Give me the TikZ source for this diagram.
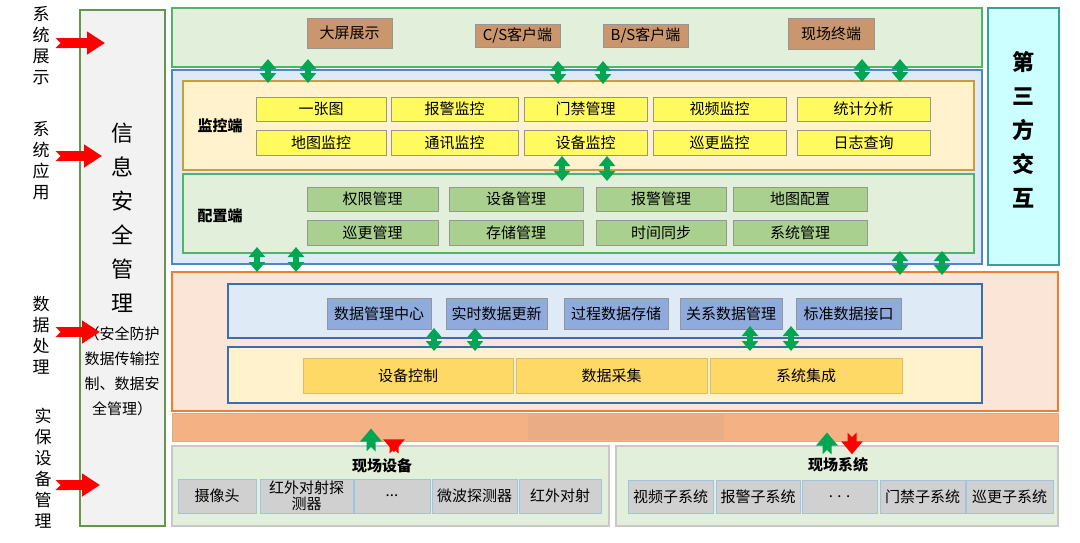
\documentclass[tikz,border=0pt]{standalone}
\usepackage{fontspec}
\setmainfont{Noto Sans CJK SC}
\usepackage{xcolor}
\usepackage{tikz}
\usetikzlibrary{positioning, arrows.meta}

\definecolor{dispfill}{RGB}{226,239,218}
\definecolor{displine}{RGB}{76,184,102}
\definecolor{secfill}{RGB}{242,242,242}
\definecolor{secline}{RGB}{98,152,72}
\definecolor{appfill}{RGB}{222,235,247}
\definecolor{appline}{RGB}{79,135,198}
\definecolor{monfill}{RGB}{255,242,204}
\definecolor{monline}{RGB}{201,158,52}
\definecolor{yellowitem}{RGB}{255,251,95}
\definecolor{greenitem}{RGB}{169,208,142}
\definecolor{brownitem}{RGB}{201,150,110}
\definecolor{thirdfill}{RGB}{204,255,255}
\definecolor{thirdline}{RGB}{58,158,158}
\definecolor{datafill}{RGB}{251,229,214}
\definecolor{dataline}{RGB}{237,125,49}
\definecolor{dmgline}{RGB}{62,110,170}
\definecolor{blueitem}{RGB}{143,170,220}
\definecolor{golditem}{RGB}{255,217,102}
\definecolor{busfill}{RGB}{244,177,131}
\definecolor{busmid}{RGB}{233,172,133}
\definecolor{fieldline}{RGB}{200,200,200}
\definecolor{grayitem}{RGB}{208,208,208}
\definecolor{grayline}{RGB}{157,195,230}
\definecolor{itemline}{RGB}{150,150,150}
\definecolor{arrowgreen}{RGB}{0,166,81}
\definecolor{arrowred}{RGB}{255,0,0}

\begin{document}
\begin{tikzpicture}[x=1pt, y=-1pt,
  layer/.style={rectangle, line width=2pt, inner sep=0pt},
  item/.style={rectangle, draw=itemline, line width=1pt, inner sep=0pt, align=center, font=\fontsize{15}{17}\selectfont, text=black},
  vlabel/.style={align=center, inner sep=2pt, font=\fontsize{17}{21}\selectfont},
  dblarrow/.style={draw=arrowgreen, line width=5.5pt, {Triangle[length=10pt,width=16pt]}-{Triangle[length=10pt,width=16pt]}},
  uparrow/.style={draw=arrowgreen, line width=9pt, {Triangle Cap[reversed]}-{Triangle[length=13pt,width=21pt]}},
  downarrow/.style={draw=arrowred, line width=9pt, {Triangle Cap[reversed]}-{Triangle[length=13pt,width=21pt]}},
  redarrow/.style={draw=arrowred, line width=10pt, shorten <=4pt, {Triangle Cap[reversed]}-{Triangle[length=18pt,width=22pt]}}
]
\useasboundingbox (0,0) rectangle (1080,542);

% Side labels
\node[vlabel] (lblShow) at (41,46) {系\\统\\展\\示};
\node[vlabel] (lblApp) at (41,161) {系\\统\\应\\用};
\node[vlabel] (lblData) at (41,335) {数\\据\\处\\理};
\node[vlabel] (lblDev) at (43,468) {实\\保\\设\\备\\管\\理};

% Information security column
\node[layer, draw=secline, fill=secfill, minimum width=85, minimum height=516] (sec) at (122.5,268) {};
\node[align=center, font=\fontsize{22}{34}\selectfont] (secTitle) at (122,218) {信\\息\\安\\全\\管\\理};
\node[align=center, font=\fontsize{15}{25}\selectfont] (secNote) at (122,371) {（安全防护\\数据传输控\\制、数据安\\全管理）};

% Display layer
\node[layer, draw=displine, fill=dispfill, minimum width=810, minimum height=59] (disp) at (577,37.5) {};
\node[item, fill=brownitem, minimum width=85, minimum height=30] (bigScreen) at (349.5,33) {大屏展示};
\node[item, fill=brownitem, minimum width=85, minimum height=23] (csClient) at (517.5,35.5) {C/S客户端};
\node[item, fill=brownitem, minimum width=85, minimum height=23] (bsClient) at (645.5,35.5) {B/S客户端};
\node[item, fill=brownitem, minimum width=86, minimum height=31] (siteTerm) at (831,33.5) {现场终端};

% Third party
\node[layer, draw=thirdline, fill=thirdfill, minimum width=71, minimum height=257] (third) at (1023.5,136.5) {};
\node[align=center, font=\fontsize{22}{34}\selectfont\bfseries] (thirdTitle) at (1023,130) {第\\三\\方\\交\\互};

% Application layer
\node[layer, draw=appline, fill=appfill, minimum width=810, minimum height=194] (app) at (577,167) {};
\node[layer, draw=monline, fill=monfill, minimum width=791, minimum height=89] (mon) at (578.5,125.5) {};
\node[font=\fontsize{15}{17}\selectfont\bfseries] (monLabel) at (220,126) {监控端};
\node[item, fill=yellowitem, minimum width=130, minimum height=24] (oneMap) at (321,109) {一张图};
\node[item, fill=yellowitem, minimum width=127, minimum height=24] (alarmMon) at (454.5,109) {报警监控};
\node[item, fill=yellowitem, minimum width=123, minimum height=24] (doorMgmt) at (585.5,109) {门禁管理};
\node[item, fill=yellowitem, minimum width=133, minimum height=24] (videoMon) at (719.5,109) {视频监控};
\node[item, fill=yellowitem, minimum width=133, minimum height=24] (statAna) at (863.5,109) {统计分析};
\node[item, fill=yellowitem, minimum width=130, minimum height=25] (mapMon) at (321,143) {地图监控};
\node[item, fill=yellowitem, minimum width=127, minimum height=25] (commMon) at (454.5,143) {通讯监控};
\node[item, fill=yellowitem, minimum width=123, minimum height=25] (devMon) at (585.5,143) {设备监控};
\node[item, fill=yellowitem, minimum width=133, minimum height=25] (patrolMon) at (719.5,143) {巡更监控};
\node[item, fill=yellowitem, minimum width=133, minimum height=25] (logQuery) at (863.5,143) {日志查询};

\node[layer, draw=displine, fill=dispfill, minimum width=791, minimum height=79] (cfg) at (578.5,213.5) {};
\node[font=\fontsize{15}{17}\selectfont\bfseries] (cfgLabel) at (220,216) {配置端};
\node[item, fill=greenitem, minimum width=131, minimum height=24] (authMgmt) at (372.5,199) {权限管理};
\node[item, fill=greenitem, minimum width=134, minimum height=24] (devMgmt) at (516,199) {设备管理};
\node[item, fill=greenitem, minimum width=130, minimum height=24] (alarmMgmt) at (661,199) {报警管理};
\node[item, fill=greenitem, minimum width=134, minimum height=24] (mapCfg) at (800,199) {地图配置};
\node[item, fill=greenitem, minimum width=131, minimum height=25] (patrolMgmt) at (372.5,232.5) {巡更管理};
\node[item, fill=greenitem, minimum width=134, minimum height=25] (storeMgmt) at (516,232.5) {存储管理};
\node[item, fill=greenitem, minimum width=130, minimum height=25] (timeSync) at (661,232.5) {时间同步};
\node[item, fill=greenitem, minimum width=134, minimum height=25] (sysMgmt) at (800,232.5) {系统管理};

% Data processing layer
\node[layer, draw=dataline, fill=datafill, minimum width=886, minimum height=139] (data) at (615,341.5) {};
\node[layer, draw=dmgline, fill=appfill, minimum width=754, minimum height=54] (dmg) at (605,311) {};
\node[item, fill=blueitem, minimum width=104, minimum height=31] (dataCenter) at (379,313.5) {数据管理中心};
\node[item, fill=blueitem, minimum width=101, minimum height=31] (rtUpdate) at (496.5,313.5) {实时数据更新};
\node[item, fill=blueitem, minimum width=104, minimum height=31] (procStore) at (616,313.5) {过程数据存储};
\node[item, fill=blueitem, minimum width=102, minimum height=31] (relMgmt) at (731,313.5) {关系数据管理};
\node[item, fill=blueitem, minimum width=105, minimum height=31] (stdIface) at (848.5,313.5) {标准数据接口};
\node[layer, draw=dmgline, fill=monfill, minimum width=754, minimum height=56] (acq) at (605,375) {};
\node[item, fill=golditem, draw=golditem!70!gray, minimum width=210, minimum height=35] (devCtrl) at (408,375.5) {设备控制};
\node[item, fill=golditem, draw=golditem!70!gray, minimum width=191, minimum height=35] (dataAcq) at (611.5,375.5) {数据采集};
\node[item, fill=golditem, draw=golditem!70!gray, minimum width=192, minimum height=35] (sysInteg) at (806,375.5) {系统集成};

% Bus
\node[rectangle, fill=busfill, draw=busfill!85!gray, line width=1pt, minimum width=886, minimum height=28, inner sep=0pt] (bus) at (615,427) {};
\node[rectangle, fill=busmid, minimum width=196, minimum height=26, inner sep=0pt] (busShade) at (626,427) {};

% Field layer
\node[layer, draw=fieldline, line width=1.5pt, fill=dispfill, minimum width=437, minimum height=80] (fdev) at (390.5,486) {};
\node[font=\fontsize{15}{17}\selectfont\bfseries] (fdevLabel) at (382,466) {现场设备};
\node[item, fill=grayitem, draw=grayline, minimum width=78, minimum height=34] (camera) at (217,496) {摄像头};
\node[item, fill=grayitem, draw=grayline, minimum width=93, minimum height=34, font=\fontsize{15}{16}\selectfont] (irDetect) at (306.5,496) {红外对射探\\测器};
\node[item, fill=grayitem, draw=grayline, minimum width=76, minimum height=34] (devMore) at (392,496) {...};
\node[item, fill=grayitem, draw=grayline, minimum width=85, minimum height=34] (mwDetect) at (474.5,496) {微波探测器};
\node[item, fill=grayitem, draw=grayline, minimum width=82, minimum height=34] (irBeam) at (560,496) {红外对射};

\node[layer, draw=fieldline, line width=1.5pt, fill=dispfill, minimum width=442, minimum height=80] (fsys) at (837,486) {};
\node[font=\fontsize{15}{17}\selectfont\bfseries] (fsysLabel) at (838,465) {现场系统};
\node[item, fill=grayitem, draw=grayline, minimum width=85, minimum height=33] (videoSub) at (670.5,496.5) {视频子系统};
\node[item, fill=grayitem, draw=grayline, minimum width=84, minimum height=33] (alarmSub) at (758,496.5) {报警子系统};
\node[item, fill=grayitem, draw=grayline, minimum width=75, minimum height=33] (sysMore) at (839.5,496.5) {. . .};
\node[item, fill=grayitem, draw=grayline, minimum width=85, minimum height=33] (doorSub) at (922.5,496.5) {门禁子系统};
\node[item, fill=grayitem, draw=grayline, minimum width=87, minimum height=33] (patrolSub) at (1009.5,496.5) {巡更子系统};

% Red arrows into security column
\coordinate (inShow) at (105,43);
\coordinate (inApp) at (102,156);
\coordinate (inData) at (100,332);
\coordinate (inDev) at (100,485);
\draw[redarrow] (inShow -| lblShow.east) -- (inShow);
\draw[redarrow] (inApp -| lblApp.east) -- (inApp);
\draw[redarrow] (inData -| lblData.east) -- (inData);
\draw[redarrow] (inDev -| lblData.east) -- (inDev);

% Two-way links between layers
\coordinate (xa) at (268,0);
\coordinate (xb) at (308,0);
\coordinate (xc) at (558,0);
\coordinate (xd) at (603,0);
\coordinate (xe) at (862,0);
\coordinate (xf) at (900,0);
\draw[dblarrow, shorten <=-9pt, shorten >=-3pt] (disp.south -| xa) -- (mon.north -| xa);
\draw[dblarrow, shorten <=-9pt, shorten >=-3pt] (disp.south -| xb) -- (mon.north -| xb);
\draw[dblarrow, shorten <=-7pt, shorten >=-4pt] (disp.south -| xc) -- (mon.north -| xc);
\draw[dblarrow, shorten <=-7pt, shorten >=-4pt] (disp.south -| xd) -- (mon.north -| xd);
\draw[dblarrow, shorten <=-9pt, shorten >=-2pt] (disp.south -| xe) -- (mon.north -| xe);
\draw[dblarrow, shorten <=-9pt, shorten >=-2pt] (disp.south -| xf) -- (mon.north -| xf);

\coordinate (xg) at (562,0);
\coordinate (xh) at (607,0);
\draw[dblarrow, shorten >=-8pt] (devMon.south -| xg) -- (cfg.north -| xg);
\draw[dblarrow, shorten >=-8pt] (devMon.south -| xh) -- (cfg.north -| xh);

\coordinate (xi) at (257,0);
\coordinate (xj) at (296,0);
\coordinate (xk) at (900,0);
\coordinate (xl) at (942,0);
\draw[dblarrow, shorten <=-7pt, shorten >=-1pt] (cfg.south -| xi) -- (data.north -| xi);
\draw[dblarrow, shorten <=-7pt, shorten >=-1pt] (cfg.south -| xj) -- (data.north -| xj);
\draw[dblarrow, shorten <=-3pt, shorten >=-4pt] (cfg.south -| xk) -- (data.north -| xk);
\draw[dblarrow, shorten <=-3pt, shorten >=-4pt] (cfg.south -| xl) -- (data.north -| xl);

\coordinate (xm) at (434,0);
\coordinate (xn) at (475,0);
\coordinate (xo) at (750,0);
\coordinate (xp) at (791,0);
\draw[dblarrow, shorten <=-11pt, shorten >=-5pt] (dmg.south -| xm) -- (acq.north -| xm);
\draw[dblarrow, shorten <=-11pt, shorten >=-5pt] (dmg.south -| xn) -- (acq.north -| xn);
\draw[dblarrow, shorten <=-13pt, shorten >=-5pt] (dmg.south -| xo) -- (acq.north -| xo);
\draw[dblarrow, shorten <=-13pt, shorten >=-5pt] (dmg.south -| xp) -- (acq.north -| xp);

% Bus to field
\coordinate (xq) at (371,0);
\coordinate (xr) at (394,0);
\coordinate (xs) at (827,0);
\coordinate (xt) at (852,0);
\draw[uparrow, shorten <=-6pt, shorten >=-13pt] (fdev.north -| xq) -- (bus.south -| xq);
\draw[downarrow, shorten <=-12pt, shorten >=-7pt] (bus.south -| xr) -- (fdev.north -| xr);
\draw[uparrow, shorten <=-9pt, shorten >=-9pt] (fsys.north -| xs) -- (bus.south -| xs);
\draw[downarrow, shorten <=-9pt, shorten >=-9pt] (bus.south -| xt) -- (fsys.north -| xt);

\end{tikzpicture}
\end{document}
